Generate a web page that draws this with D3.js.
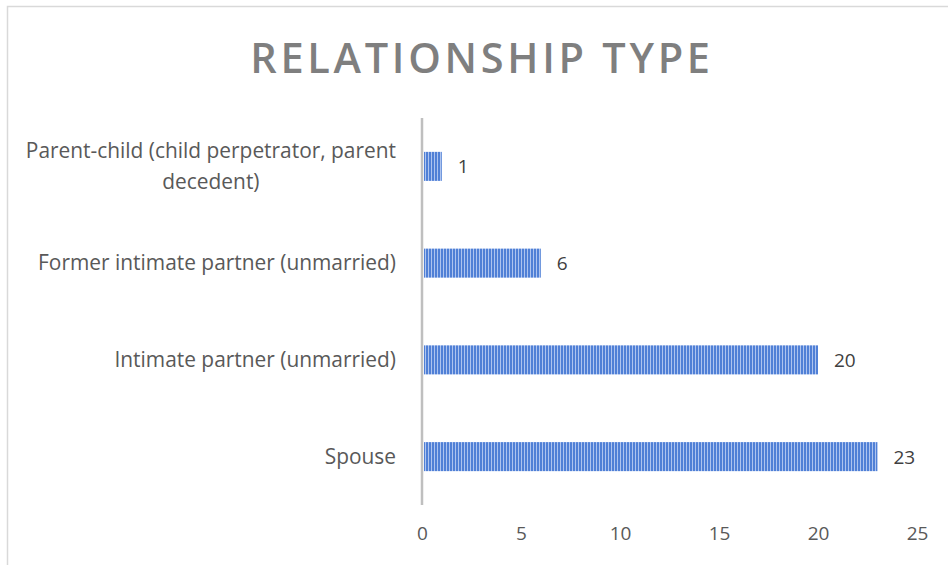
<!DOCTYPE html>
<html><head><meta charset="utf-8">
<script src="https://cdn.jsdelivr.net/npm/d3@7"></script>
<style>body{margin:0;background:#fff}svg{display:block}</style>
</head><body><svg id="c" width="948" height="565"></svg>
<script>
const title = "RELATIONSHIP TYPE";
const categories = [
  "Parent-child (child perpetrator, parent decedent)",
  "Former intimate partner (unmarried)",
  "Intimate partner (unmarried)",
  "Spouse"
];
const categoryLines = [
  ["Parent-child (child perpetrator, parent", "decedent)"],
  ["Former intimate partner (unmarried)"],
  ["Intimate partner (unmarried)"],
  ["Spouse"]
];
const values = [1, 6, 20, 23];
const xTicks = [0, 5, 10, 15, 20, 25];

const svg = d3.select("#c");
const font = "'Open Sans', 'Noto Sans', sans-serif";

// frame
svg.append("path").attr("d","M7.5,565 V6.5 H948").attr("fill","none").attr("stroke","#d9d9d9").attr("stroke-width",1.5);

// title
svg.append("text").attr("x",482).attr("y",73).attr("text-anchor","middle")
  .attr("font-family",font).attr("font-weight",600).attr("font-size",41.5)
  .attr("letter-spacing",3.7).attr("fill","#7f7f7f").text(title);

const x = d3.scaleLinear().domain([0,25]).range([422,917]);
const y = d3.scaleBand().domain(categories).range([118,505]).paddingInner(0.7).paddingOuter(0.35);

const defs = svg.append("defs");
const pat = defs.append("pattern").attr("id","stripe").attr("patternUnits","userSpaceOnUse")
  .attr("width",3).attr("height",10);
pat.append("rect").attr("width",3).attr("height",10).attr("fill","#aec4ef");
pat.append("rect").attr("width",2).attr("height",10).attr("fill","#5080d6");

// bars
svg.append("g").selectAll("rect").data(values).join("rect")
  .attr("x", x(0)+2).attr("y",(d,i)=>y(categories[i]))
  .attr("width", d=>x(d)-x(0)-2).attr("height", y.bandwidth())
  .attr("fill","url(#stripe)");

// axis line
svg.append("line").attr("x1",x(0)).attr("x2",x(0)).attr("y1",118).attr("y2",505)
  .attr("stroke","#bfbfbf").attr("stroke-width",2.5);

// value labels
svg.append("g").selectAll("text").data(values).join("text")
  .attr("x", d=>x(d)+16).attr("y",(d,i)=>y(categories[i])+y.bandwidth()/2+7)
  .attr("font-family",font).attr("font-size",19).attr("fill","#404040").text(d=>d);

// category labels
const cl = svg.append("g");
categories.forEach((c,i)=>{
  const lines = categoryLines[i];
  const cy = y(c)+y.bandwidth()/2;
  const lh = 31;
  const t = cl.append("text").attr("font-family",font).attr("font-size",20.9).attr("fill","#595959");
  lines.forEach((l,j)=>{
    t.append("tspan").attr("y", cy + 7 + (j-(lines.length-1)/2)*lh).text(l);
  });
  const tsp = t.selectAll("tspan").nodes();
  const widths = tsp.map(n=>n.getComputedTextLength());
  const maxW = d3.max(widths);
  tsp.forEach((n,j)=>{
    d3.select(n).attr("x", 396 - maxW/2).attr("text-anchor","middle");
  });
});

// x axis tick labels
const xa = svg.append("g").attr("transform","translate(0,505)")
  .call(d3.axisBottom(x).tickValues(xTicks).tickSize(0).tickPadding(22));
xa.select(".domain").remove();
xa.selectAll("text").attr("font-family",font).attr("font-size",19).attr("fill","#595959");
</script></body></html>
